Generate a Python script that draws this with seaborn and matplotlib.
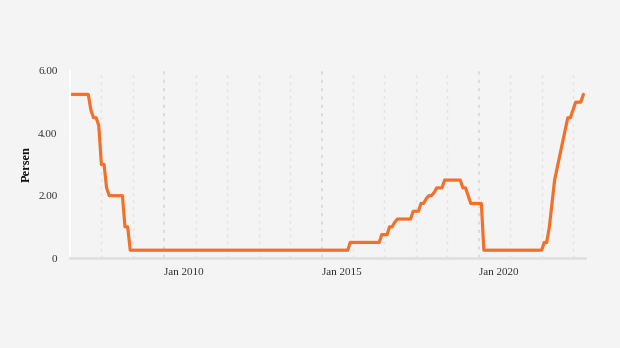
import matplotlib
matplotlib.use("Agg")
import matplotlib.pyplot as plt
import matplotlib.dates as mdates
import matplotlib.transforms as mtransforms
import seaborn as sns
import pandas as pd

# Monthly values (Persen), Jan 2007 .. May 2023
rate_2007 = [5.25, 5.25, 5.25, 5.25, 5.25, 5.25, 5.25, 5.25, 4.75, 4.5, 4.5, 4.25]
rate_2008 = [3.0, 3.0, 2.25, 2.0, 2.0, 2.0, 2.0, 2.0, 2.0, 1.0, 1.0, 0.25]
rate_2009 = [0.25] * 12
rate_2010 = [0.25] * 12
rate_2011 = [0.25] * 12
rate_2012 = [0.25] * 12
rate_2013 = [0.25] * 12
rate_2014 = [0.25] * 12
rate_2015 = [0.25, 0.25, 0.25, 0.25, 0.25, 0.25, 0.25, 0.25, 0.25, 0.25, 0.25, 0.5]
rate_2016 = [0.5, 0.5, 0.5, 0.5, 0.5, 0.5, 0.5, 0.5, 0.5, 0.5, 0.5, 0.75]
rate_2017 = [0.75, 0.75, 1.0, 1.0, 1.15, 1.25, 1.25, 1.25, 1.25, 1.25, 1.25, 1.5]
rate_2018 = [1.5, 1.5, 1.75, 1.75, 1.9, 2.0, 2.0, 2.1, 2.25, 2.25, 2.25, 2.5]
rate_2019 = [2.5, 2.5, 2.5, 2.5, 2.5, 2.5, 2.25, 2.25, 2.0, 1.75, 1.75, 1.75]
rate_2020 = [1.75, 1.75, 0.25, 0.25, 0.25, 0.25, 0.25, 0.25, 0.25, 0.25, 0.25, 0.25]
rate_2021 = [0.25] * 12
rate_2022 = [0.25, 0.5, 0.5, 1.0, 1.75, 2.5, 2.9, 3.3, 3.7, 4.1, 4.5, 4.5]
rate_2023 = [4.75, 5.0, 5.0, 5.0, 5.25]

values = (rate_2007 + rate_2008 + rate_2009 + rate_2010 + rate_2011 + rate_2012
          + rate_2013 + rate_2014 + rate_2015 + rate_2016 + rate_2017 + rate_2018
          + rate_2019 + rate_2020 + rate_2021 + rate_2022 + rate_2023)
dates = pd.date_range("2007-01-01", periods=len(values), freq="MS")
df = pd.DataFrame({"Tanggal": dates, "Persen": values})

y_ticks = [0, 2, 4, 6]
y_tick_labels = ["0", "2.00", "4.00", "6.00"]
x_tick_years = [2010, 2015, 2020]
x_tick_labels = ["Jan 2010", "Jan 2015", "Jan 2020"]

bg = "#f4f4f4"
sns.set_style("white", {"axes.facecolor": bg, "figure.facecolor": bg})
plt.rcParams["font.family"] = ["Liberation Serif", "DejaVu Serif"]

fig = plt.figure(figsize=(6.2, 3.48), dpi=100)
ax = fig.add_axes([70 / 620, 1 - 258 / 348, (585 - 70) / 620, (258 - 71) / 348])

sns.lineplot(data=df, x="Tanggal", y="Persen", ax=ax, color="#f3702a",
             linewidth=2.3, solid_joinstyle="round")

ax.set_xlim(pd.Timestamp("2007-01-01"), pd.Timestamp("2023-05-20"))
ax.set_ylim(0, 6)

ax.set_yticks(y_ticks)
ax.set_yticklabels(y_tick_labels, fontsize=8, color="#333333")
major_dates = [pd.Timestamp(f"{y}-01-01") for y in x_tick_years]
ax.set_xticks(major_dates)
ax.set_xticklabels(x_tick_labels, fontsize=8, color="#333333", ha="left")
ax.xaxis.set_minor_locator(mdates.YearLocator())
offset = mtransforms.ScaledTranslation(5 / 100, 0, fig.dpi_scale_trans)
for lbl in ax.get_xticklabels():
    lbl.set_transform(lbl.get_transform() + offset)

ax.grid(False)
ax.grid(which="minor", axis="x", color="#e3e3e3", linestyle=(0, (2, 3)), linewidth=1.0)
ax.grid(which="major", axis="x", color="#d8d8d8", linestyle=(0, (2, 3)), linewidth=1.2)
ax.set_axisbelow(True)

ax.tick_params(axis="x", which="major", length=5, width=1, color="#d0d0d0", pad=2)
ax.tick_params(axis="x", which="minor", length=0)
ax.tick_params(axis="y", length=3, width=1, color="white", pad=6)

for s in ["top", "right"]:
    ax.spines[s].set_visible(False)
ax.spines["left"].set_color("white")
ax.spines["left"].set_linewidth(1.5)
ax.spines["bottom"].set_color("#e0e0e0")
ax.spines["bottom"].set_linewidth(2)

ax.set_xlabel("")
ax.set_ylabel("Persen", fontsize=9, fontweight="bold", color="#111111", labelpad=4)

fig.savefig("out.png", dpi=100, facecolor=bg)
